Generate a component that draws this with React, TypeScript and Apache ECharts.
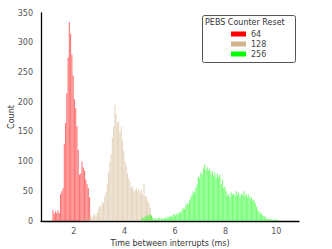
import React, { useEffect, useRef } from "react";
import * as echarts from "echarts";

const BIN = 0.05;
const seriesNames = ["64", "128", "256"];
const binStarts = [1.15, 2.3, 4.65];

const red64 = [
  18, 12, 16, 14, 18, 13, 45, 50, 55, 130, 165, 215, 275, 335, 315, 280, 245, 205,
  190, 160, 120, 78, 80, 100, 90, 85, 70, 62, 55, 40,
];

const tan128 = [
  4, 6, 3, 5, 8, 4, 7, 9, 6, 10, 12, 8, 14, 20, 26, 24, 32, 30, 42, 48, 62, 82, 100,
  112, 140, 160, 195, 180, 165, 168, 150, 158, 135, 118, 100, 92, 80, 72, 66, 56, 58,
  50, 52, 55, 50, 54, 48, 52, 44, 64, 42, 40, 34, 30, 22, 10,
];

const green256 = [
  3, 6, 4, 8, 7, 10, 9, 12, 8, 6, 3, 5, 2, 4, 6, 2, 5, 3, 4, 6, 4, 8, 6, 9, 7, 10, 12,
  9, 13, 11, 15, 14, 18, 22, 20, 26, 30, 28, 35, 40, 44, 50, 48, 56, 62, 75, 72, 82,
  78, 88, 95, 86, 90, 85, 88, 78, 84, 76, 82, 72, 80, 74, 78, 62, 70, 55, 58, 50, 42,
  46, 40, 48, 44, 46, 42, 50, 44, 48, 40, 46, 44, 50, 42, 46, 40, 44, 38, 40, 34, 36,
  30, 24, 18, 16, 12, 13, 9, 8, 6, 4, 3, 4, 2, 3, 1, 2, 3, 1, 2,
];

const seriesValues = [red64, tan128, green256];
const barColors = ["rgba(255,0,0,0.55)", "rgba(210,180,140,0.55)", "rgba(0,255,0,0.55)"];
const legendColors = ["#ff0000", "#d2b48c", "#00ff00"];
const xTicks = [2, 4, 6, 8, 10];
const yTicks = [0, 50, 100, 150, 200, 250, 300, 350];

const FONT = "DejaVu Sans";

export default function App() {
  const ref = useRef<HTMLDivElement>(null);
  useEffect(() => {
    document.body.style.margin = "0";
    if (!ref.current) return;
    const chart = echarts.init(ref.current, null, { renderer: "svg" });
    const series = seriesNames.map((name, si) => ({
      type: "custom",
      name,
      color: legendColors[si],
      encode: { x: [0, 1], y: 2 },
      data: seriesValues[si].map((v, i) => {
        const x0 = binStarts[si] + i * BIN;
        return [x0, x0 + BIN, v];
      }),
      renderItem: (params: any, api: any) => {
        const x0 = api.value(0);
        const x1 = api.value(1);
        const v = api.value(2);
        const p0 = api.coord([x0, v]);
        const p1 = api.coord([x1, 0]);
        return {
          type: "rect",
          shape: { x: p0[0], y: p0[1], width: (p1[0] - p0[0]) * 0.85, height: p1[1] - p0[1] },
          style: { fill: barColors[si] },
        };
      },
    }));
    chart.setOption({
      animation: false,
      textStyle: { fontFamily: FONT },
      grid: { left: 41, right: 33, top: 13, bottom: 28, containLabel: false, outerBoundsMode: "none" },
      xAxis: {
        type: "value",
        min: 0.7,
        max: 10.9,
        name: "Time between interrupts (ms)",
        nameLocation: "middle",
        nameGap: 18,
        nameMoveOverlap: false,
        nameTextStyle: { fontSize: 8, color: "#333", fontFamily: FONT },
        axisLine: { show: true, lineStyle: { color: "#000", width: 1.3 } },
        axisTick: { show: false },
        splitLine: { show: false },
        axisLabel: { customValues: xTicks, fontSize: 8, color: "#555", margin: 6, fontFamily: FONT },
      },
      yAxis: {
        type: "value",
        min: 0,
        max: 350,
        interval: 50,
        name: "Count",
        nameLocation: "middle",
        nameGap: 26,
        nameMoveOverlap: false,
        nameTextStyle: { fontSize: 8, color: "#333", fontFamily: FONT },
        axisLine: { show: true, lineStyle: { color: "#000", width: 1.3 } },
        axisTick: { show: false },
        splitLine: { show: false },
        axisLabel: { customValues: yTicks, fontSize: 8, color: "#555", margin: 8, fontFamily: FONT },
      },
      legend: {
        orient: "vertical",
        left: 231,
        top: 29,
        padding: 0,
        itemWidth: 15,
        itemHeight: 5,
        itemGap: 0,
        icon: "rect",
        textStyle: { fontSize: 8, color: "#444", lineHeight: 10, fontFamily: FONT },
        data: seriesNames.map((n, i) => ({ name: n, itemStyle: { color: legendColors[i] } })),
      },
      graphic: [
        {
          type: "rect",
          left: 202,
          top: 15,
          z: -1,
          shape: { width: 93, height: 47, r: 2 },
          style: { fill: "#fff", stroke: "#555", lineWidth: 1 },
        },
        {
          type: "text",
          left: 205,
          top: 18,
          style: { text: "PEBS Counter Reset", fontSize: 8, fill: "#333", fontFamily: FONT },
        },
      ],
      series,
    });
    return () => chart.dispose();
  }, []);
  return <div ref={ref} style={{ width: 332, height: 249 }} />;
}
